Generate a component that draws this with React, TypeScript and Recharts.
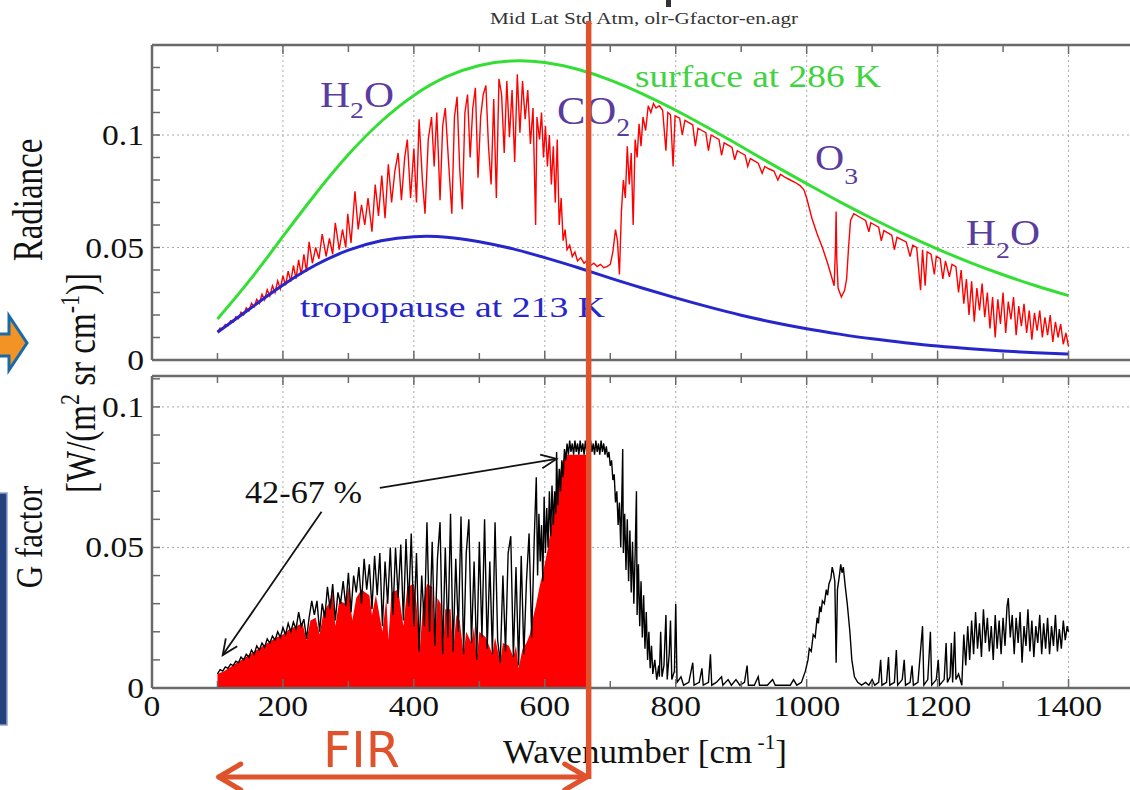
import { Area, CartesianGrid, ComposedChart, Line, ReferenceLine, XAxis, YAxis } from "recharts";

// Planck curves [wavenumber cm^-1, radiance]
const surface286K: [number, number][] = [
  [100, 0.0182], [150, 0.0357], [200, 0.0549], [250, 0.0739], [300, 0.0913], [350, 0.106], [400, 0.1176],
  [450, 0.1259], [500, 0.1309], [550, 0.1329], [600, 0.1322], [650, 0.1292], [700, 0.1244], [750, 0.1182],
  [800, 0.111], [850, 0.1031], [900, 0.0949], [950, 0.0865], [1000, 0.0784], [1050, 0.0704], [1100, 0.0629],
  [1150, 0.0558], [1200, 0.0493], [1250, 0.0433], [1300, 0.0379], [1350, 0.033], [1400, 0.0286],
];

const tropopause213K: [number, number][] = [
  [100, 0.0123], [150, 0.0229], [200, 0.0333], [250, 0.0422], [300, 0.0488], [350, 0.053], [400, 0.0548],
  [450, 0.0546], [500, 0.0526], [550, 0.0495], [600, 0.0455], [650, 0.0411], [700, 0.0364], [750, 0.0319],
  [800, 0.0276], [850, 0.0236], [900, 0.0199], [950, 0.0167], [1000, 0.0139], [1050, 0.0115], [1100, 0.0094],
  [1150, 0.0077], [1200, 0.0062], [1250, 0.005], [1300, 0.004], [1350, 0.0032], [1400, 0.0026],
];

// outgoing spectrum (red)
const radianceSpectrum: [number, number][] = [
  [100, 0.0125], [104, 0.0142], [108, 0.0138], [112, 0.0158], [116, 0.0152], [120, 0.0175], [124, 0.0168],
  [128, 0.0192], [132, 0.0184], [136, 0.0212], [140, 0.02], [144, 0.0232], [148, 0.0218], [152, 0.0252],
  [156, 0.0236], [160, 0.027], [164, 0.0252], [168, 0.0292], [172, 0.0268], [176, 0.0312], [180, 0.0284],
  [184, 0.033], [188, 0.03], [192, 0.0352], [196, 0.0316], [200, 0.0375], [204, 0.0332], [208, 0.0395],
  [212, 0.0348], [216, 0.042], [220, 0.0362], [224, 0.0445], [228, 0.0378], [232, 0.047], [236, 0.0392],
  [240, 0.0525], [245, 0.043], [250, 0.05], [255, 0.045], [260, 0.056], [266, 0.046], [271, 0.054],
  [276, 0.047], [280, 0.061], [286, 0.049], [291, 0.058], [296, 0.05], [299, 0.065], [304, 0.052],
  [310, 0.075], [315, 0.058], [320, 0.069], [325, 0.06], [330, 0.072], [336, 0.057], [341, 0.078],
  [346, 0.064], [351, 0.082], [356, 0.063], [361, 0.087], [366, 0.07], [371, 0.084], [376, 0.092],
  [381, 0.071], [386, 0.09], [390, 0.098], [395, 0.072], [400, 0.094], [404, 0.07], [408, 0.107],
  [413, 0.08], [417, 0.065], [422, 0.098], [427, 0.108], [431, 0.086], [435, 0.11], [440, 0.071],
  [444, 0.104], [448, 0.112], [453, 0.088], [458, 0.065], [462, 0.108], [466, 0.117], [470, 0.085],
  [474, 0.067], [478, 0.11], [482, 0.118], [486, 0.09], [490, 0.112], [494, 0.121], [498, 0.081],
  [502, 0.108], [506, 0.118], [510, 0.122], [514, 0.095], [518, 0.078], [522, 0.116], [526, 0.072],
  [530, 0.125], [534, 0.118], [538, 0.092], [542, 0.124], [546, 0.099], [550, 0.12], [554, 0.088],
  [558, 0.127], [562, 0.101], [566, 0.124], [570, 0.107], [574, 0.12], [578, 0.096], [582, 0.112],
  [586, 0.06], [588, 0.108], [592, 0.098], [595, 0.11], [598, 0.09], [601, 0.104], [604, 0.086],
  [607, 0.1], [610, 0.078], [613, 0.095], [616, 0.07], [619, 0.098], [622, 0.06], [625, 0.072],
  [628, 0.053], [631, 0.058], [634, 0.049], [638, 0.051], [642, 0.046], [646, 0.048], [650, 0.044],
  [655, 0.0455], [660, 0.043], [665, 0.0445], [670, 0.042], [675, 0.043], [680, 0.0415], [685, 0.0425],
  [690, 0.041], [695, 0.0415], [700, 0.0425], [704, 0.048], [708, 0.058], [711, 0.053], [714, 0.038],
  [717, 0.066], [720, 0.08], [723, 0.072], [726, 0.095], [729, 0.078], [732, 0.092], [735, 0.06],
  [738, 0.098], [741, 0.09], [744, 0.105], [747, 0.095], [750, 0.108], [754, 0.102], [758, 0.113],
  [762, 0.11], [766, 0.114], [770, 0.112], [775, 0.113], [780, 0.111], [785, 0.093], [788, 0.11],
  [792, 0.109], [796, 0.086], [799, 0.1085], [806, 0.1075], [810, 0.1], [814, 0.1065], [820, 0.1055],
  [826, 0.1045], [830, 0.095], [834, 0.103], [840, 0.102], [846, 0.101], [850, 0.093], [854, 0.1],
  [860, 0.099], [866, 0.098], [870, 0.091], [874, 0.0965], [880, 0.0955], [886, 0.0945], [890, 0.089],
  [894, 0.093], [900, 0.092], [906, 0.091], [910, 0.086], [914, 0.0895], [920, 0.0885], [926, 0.0875],
  [932, 0.083], [936, 0.086], [942, 0.085], [950, 0.084], [956, 0.08], [960, 0.0825], [968, 0.081],
  [975, 0.08], [982, 0.079], [990, 0.0775], [996, 0.0755], [1000, 0.072], [1008, 0.063], [1016, 0.056],
  [1024, 0.05], [1032, 0.043], [1038, 0.037], [1042, 0.033], [1044, 0.05], [1045, 0.066], [1046, 0.045],
  [1048, 0.032], [1053, 0.028], [1058, 0.031], [1061, 0.036], [1064, 0.05], [1067, 0.062], [1072, 0.065],
  [1078, 0.064], [1084, 0.063], [1090, 0.062], [1095, 0.057], [1098, 0.061], [1104, 0.06], [1110, 0.059],
  [1114, 0.053], [1118, 0.0575], [1124, 0.0565], [1130, 0.0555], [1134, 0.049], [1138, 0.0545],
  [1145, 0.0535], [1152, 0.0525], [1158, 0.046], [1162, 0.051], [1168, 0.05], [1174, 0.031], [1177, 0.049],
  [1181, 0.033], [1184, 0.048], [1190, 0.047], [1195, 0.038], [1198, 0.046], [1204, 0.045], [1208, 0.036],
  [1212, 0.044], [1218, 0.037], [1222, 0.0425], [1228, 0.0415], [1232, 0.03], [1236, 0.04], [1240, 0.025],
  [1244, 0.036], [1248, 0.02], [1252, 0.035], [1256, 0.017], [1260, 0.032], [1264, 0.022], [1268, 0.034],
  [1272, 0.019], [1276, 0.03], [1280, 0.014], [1284, 0.028], [1288, 0.01], [1292, 0.027], [1296, 0.016],
  [1300, 0.03], [1304, 0.012], [1308, 0.026], [1312, 0.018], [1316, 0.028], [1320, 0.011], [1324, 0.024],
  [1328, 0.015], [1332, 0.025], [1336, 0.012], [1340, 0.022], [1344, 0.009], [1348, 0.021], [1352, 0.013],
  [1356, 0.022], [1360, 0.01], [1364, 0.019], [1368, 0.011], [1372, 0.02], [1376, 0.008], [1380, 0.017],
  [1384, 0.01], [1388, 0.016], [1392, 0.007], [1396, 0.012], [1400, 0.006],
];

// G factor (black line)
const gFactorSpectrum: [number, number][] = [
  [100, 0.005], [104, 0.0065], [108, 0.006], [112, 0.0075], [116, 0.007], [120, 0.0085], [124, 0.008],
  [128, 0.0095], [132, 0.009], [136, 0.011], [140, 0.01], [144, 0.012], [148, 0.011], [152, 0.0135],
  [156, 0.012], [160, 0.015], [164, 0.0135], [168, 0.016], [172, 0.0145], [176, 0.0175], [180, 0.016],
  [184, 0.0185], [188, 0.017], [192, 0.02], [196, 0.018], [200, 0.0215], [204, 0.019], [208, 0.023],
  [212, 0.02], [216, 0.0235], [220, 0.021], [224, 0.027], [228, 0.022], [232, 0.0245], [236, 0.0175],
  [240, 0.025], [244, 0.031], [248, 0.026], [252, 0.031], [256, 0.02], [260, 0.03], [264, 0.025],
  [268, 0.036], [272, 0.028], [276, 0.037], [280, 0.024], [284, 0.034], [288, 0.03], [292, 0.038],
  [296, 0.029], [300, 0.041], [304, 0.027], [308, 0.04], [312, 0.034], [316, 0.043], [320, 0.03],
  [324, 0.046], [328, 0.035], [332, 0.044], [336, 0.028], [340, 0.047], [344, 0.033], [348, 0.048],
  [352, 0.022], [356, 0.045], [360, 0.03], [364, 0.05], [368, 0.026], [372, 0.05], [376, 0.032],
  [380, 0.051], [384, 0.024], [388, 0.053], [392, 0.029], [396, 0.055], [400, 0.022], [404, 0.048],
  [408, 0.013], [412, 0.04], [416, 0.022], [420, 0.059], [424, 0.02], [428, 0.052], [432, 0.015],
  [436, 0.046], [440, 0.059], [444, 0.012], [448, 0.05], [452, 0.018], [456, 0.062], [460, 0.013],
  [464, 0.046], [468, 0.02], [472, 0.061], [476, 0.012], [480, 0.048], [484, 0.06], [488, 0.016],
  [492, 0.045], [496, 0.01], [500, 0.052], [504, 0.018], [508, 0.06], [512, 0.014], [516, 0.045],
  [520, 0.012], [524, 0.059], [528, 0.017], [532, 0.009], [536, 0.04], [540, 0.013], [544, 0.048],
  [548, 0.054], [552, 0.011], [556, 0.043], [560, 0.008], [564, 0.047], [568, 0.012], [572, 0.038],
  [576, 0.055], [580, 0.018], [584, 0.054], [587, 0.075], [589, 0.04], [591, 0.062], [593, 0.045],
  [595, 0.058], [597, 0.038], [599, 0.068], [601, 0.048], [603, 0.064], [605, 0.05], [607, 0.07],
  [609, 0.054], [611, 0.072], [613, 0.058], [615, 0.07], [617, 0.062], [618, 0.084], [620, 0.065],
  [622, 0.078], [624, 0.07], [626, 0.081], [628, 0.075], [630, 0.085], [632, 0.081], [634, 0.087],
  [636, 0.083], [638, 0.088], [640, 0.084], [642, 0.087], [644, 0.083], [646, 0.088], [648, 0.084],
  [650, 0.087], [652, 0.083], [654, 0.088], [656, 0.084], [658, 0.087], [660, 0.083], [662, 0.088],
  [664, 0.084], [666, 0.087], [668, 0.083], [670, 0.088], [672, 0.084], [674, 0.087], [676, 0.083],
  [678, 0.088], [680, 0.084], [682, 0.087], [684, 0.083], [686, 0.088], [688, 0.084], [690, 0.087],
  [692, 0.083], [694, 0.086], [696, 0.082], [698, 0.084], [700, 0.079], [702, 0.081], [704, 0.074],
  [706, 0.076], [708, 0.066], [710, 0.07], [712, 0.058], [714, 0.066], [716, 0.05], [718, 0.072],
  [719, 0.085], [720, 0.048], [722, 0.062], [724, 0.042], [726, 0.06], [728, 0.038], [730, 0.056],
  [732, 0.034], [734, 0.052], [736, 0.03], [738, 0.048], [740, 0.07], [741, 0.026], [743, 0.044],
  [745, 0.022], [747, 0.038], [749, 0.018], [751, 0.033], [753, 0.014], [755, 0.027], [757, 0.01],
  [759, 0.02], [761, 0.007], [763, 0.015], [765, 0.005], [768, 0.01], [771, 0.003], [774, 0.008],
  [775, 0.004], [777, 0.02], [779, 0.004], [782, 0.008], [785, 0.026], [787, 0.003], [790, 0.012],
  [792, 0.024], [794, 0.003], [798, 0.006], [800, 0.03], [802, 0.002], [808, 0.004], [812, 0.001],
  [820, 0.002], [826, 0.009], [828, 0.001], [836, 0.002], [840, 0.007], [842, 0.001], [850, 0.002],
  [853, 0.012], [855, 0.001], [862, 0.002], [870, 0.004], [872, 0.001], [880, 0.003], [885, 0.001],
  [892, 0.003], [898, 0.001], [905, 0.002], [909, 0.008], [911, 0.001], [920, 0.001], [926, 0.004],
  [928, 0.001], [940, 0.001], [948, 0.003], [952, 0.001], [965, 0.001], [975, 0.001], [980, 0.003],
  [985, 0.001], [992, 0.002], [998, 0.006], [1002, 0.01], [1004, 0.014], [1007, 0.013], [1010, 0.019],
  [1013, 0.018], [1016, 0.025], [1018, 0.023], [1020, 0.029], [1022, 0.027], [1024, 0.031], [1027, 0.03],
  [1030, 0.035], [1032, 0.033], [1034, 0.037], [1037, 0.039], [1039, 0.043], [1041, 0.041], [1043, 0.038],
  [1045, 0.009], [1047, 0.035], [1050, 0.04], [1052, 0.044], [1054, 0.041], [1056, 0.043], [1059, 0.036],
  [1062, 0.03], [1066, 0.02], [1069, 0.01], [1073, 0.004], [1078, 0.002], [1084, 0.001], [1090, 0.002],
  [1095, 0.001], [1100, 0.003], [1104, 0.001], [1110, 0.002], [1113, 0.01], [1115, 0.001], [1122, 0.002],
  [1125, 0.011], [1127, 0.001], [1134, 0.002], [1137, 0.0135], [1139, 0.001], [1146, 0.003], [1149, 0.01],
  [1151, 0.001], [1158, 0.002], [1161, 0.008], [1163, 0.001], [1170, 0.002], [1177, 0.022], [1179, 0.001],
  [1185, 0.003], [1189, 0.02], [1191, 0.001], [1198, 0.003], [1201, 0.01], [1203, 0.001], [1210, 0.003],
  [1213, 0.016], [1215, 0.002], [1219, 0.004], [1221, 0.016], [1223, 0.002], [1226, 0.02], [1228, 0.003],
  [1232, 0.005], [1237, 0.001], [1240, 0.019], [1243, 0.008], [1246, 0.022], [1249, 0.01], [1252, 0.024],
  [1255, 0.012], [1258, 0.027], [1261, 0.014], [1264, 0.023], [1267, 0.011], [1270, 0.028], [1273, 0.016],
  [1276, 0.025], [1279, 0.013], [1282, 0.022], [1285, 0.01], [1288, 0.026], [1291, 0.014], [1294, 0.024],
  [1297, 0.012], [1300, 0.025], [1303, 0.015], [1306, 0.029], [1308, 0.032], [1311, 0.018], [1314, 0.026],
  [1317, 0.012], [1320, 0.025], [1323, 0.016], [1326, 0.027], [1329, 0.009], [1332, 0.022], [1335, 0.015],
  [1338, 0.028], [1341, 0.013], [1344, 0.024], [1347, 0.011], [1350, 0.022], [1353, 0.016], [1356, 0.026],
  [1359, 0.012], [1362, 0.023], [1365, 0.014], [1368, 0.025], [1371, 0.012], [1374, 0.022], [1377, 0.015],
  [1380, 0.026], [1383, 0.013], [1386, 0.021], [1389, 0.014], [1392, 0.024], [1395, 0.017], [1398, 0.022],
  [1400, 0.02],
];

// red filled part of G (far infrared, up to 667 cm^-1)
const firFill: [number, number][] = [
  [100, 0.005], [110, 0.006], [120, 0.0075], [130, 0.009], [140, 0.0105], [150, 0.012], [160, 0.0135],
  [170, 0.015], [180, 0.0165], [190, 0.018], [200, 0.019], [210, 0.021], [220, 0.022], [230, 0.023],
  [236, 0.017], [242, 0.024], [250, 0.025], [256, 0.019], [262, 0.027], [270, 0.03], [276, 0.034],
  [280, 0.022], [286, 0.031], [296, 0.03], [300, 0.036], [306, 0.024], [312, 0.032], [320, 0.035],
  [326, 0.034], [332, 0.033], [336, 0.026], [342, 0.033], [352, 0.02], [358, 0.032], [361, 0.017],
  [366, 0.034], [376, 0.035], [384, 0.022], [390, 0.036], [400, 0.037], [404, 0.03], [409, 0.0135],
  [414, 0.03], [420, 0.037], [428, 0.036], [432, 0.015], [436, 0.032], [441, 0.03], [444, 0.012],
  [448, 0.028], [456, 0.028], [460, 0.013], [465, 0.026], [470, 0.024], [476, 0.012], [480, 0.02],
  [488, 0.016], [492, 0.022], [496, 0.01], [500, 0.02], [510, 0.018], [520, 0.012], [524, 0.018],
  [532, 0.009], [536, 0.016], [545, 0.015], [552, 0.011], [556, 0.015], [560, 0.007], [566, 0.014],
  [572, 0.016], [577, 0.019], [582, 0.025], [587, 0.03], [592, 0.036], [598, 0.042], [605, 0.05],
  [612, 0.062], [620, 0.073], [626, 0.08], [632, 0.083], [640, 0.083], [650, 0.083], [660, 0.083],
  [668, 0.083],
];

// "42-67 %" arrows, [wavenumber, G] from -> to
const arrowToFarEnd: [number, number][] = [[259, 0.0627], [108, 0.0117]];
const arrowToBandEdge: [number, number][] = [[348, 0.0712], [618, 0.0815]];

const xTicks = [0, 100, 200, 300, 400, 500, 600, 700, 800, 900, 1000, 1100, 1200, 1300, 1400, 1500];
const xGrid = [200, 400, 600, 800, 1000, 1200, 1400];
const radianceTicks = [0, 0.01, 0.02, 0.03, 0.04, 0.05, 0.06, 0.07, 0.08, 0.09, 0.1, 0.11, 0.12, 0.13, 0.14];
const gTicks = [0, 0.01, 0.02, 0.03, 0.04, 0.05, 0.06, 0.07, 0.08, 0.09, 0.1, 0.11];
const yGrid = [0.05, 0.1];
const yLabels: [number, string][] = [[0, "0"], [0.05, "0.05"], [0.1, "0.1"]];

const FIR_EDGE = 667;
const X_MAX = 1500;

const SERIF = "'Liberation Serif', 'Times New Roman', serif";
const FRAME = "#6a6a6a";
const GREEN = "#35de35";
const BLUE = "#2626cc";
const PURPLE = "#5a3ca0";
const ORANGE = "#e0522b";

const W = 1140;
const LEFT = 152;
const RIGHT = 6;
const xPx = (wn: number) => LEFT + (wn / X_MAX) * (W - LEFT - RIGHT);

function merge(series: Record<string, [number, number][]>) {
  const rows = new Map<number, any>();
  for (const [key, pts] of Object.entries(series)) {
    for (const [x, y] of pts) {
      const row = rows.get(x) ?? { x };
      row[key] = y;
      rows.set(x, row);
    }
  }
  return [...rows.values()].sort((a, b) => a.x - b.x);
}

const topRows = merge({ surface: surface286K, tropo: tropopause213K, olr: radianceSpectrum });
const bottomRows = merge({ g: gFactorSpectrum, fir: firFill });

function XTick(props: any) {
  const { x, y, payload, side, labels } = props;
  const v = payload.value;
  const len = v % 200 === 0 ? 8 : 6;
  const dir = side === "top" ? 1 : -1;
  const y0 = side === "top" ? y + 1 : y - 1;
  return (
    <g>
      <line x1={x} x2={x} y1={y0} y2={y0 + dir * len} stroke={FRAME} strokeWidth={1.5} />
      {labels && v % 200 === 0 && v <= 1400 && (
        <text transform={`translate(${x},${y0 + 29}) scale(1.12,1)`} textAnchor="middle" fontFamily={SERIF} fontSize={30} fill="#111">
          {v}
        </text>
      )}
    </g>
  );
}

function YTick(props: any) {
  const { x, y, payload } = props;
  const hit = yLabels.find(([v]) => Math.abs(v - payload.value) < 1e-9);
  const x0 = x + 1;
  return (
    <g>
      <line x1={x0} x2={x0 + 7} y1={y} y2={y} stroke={FRAME} strokeWidth={1.5} />
      {hit && (
        <text transform={`translate(${x0 - 9},${y + 10}) scale(1.12,1)`} textAnchor="end" fontFamily={SERIF} fontSize={30} fill="#111">
          {hit[1]}
        </text>
      )}
    </g>
  );
}

function Arrow(props: any) {
  const { x1, y1, x2, y2 } = props;
  const a = Math.atan2(y2 - y1, x2 - x1);
  const len = 17;
  const s = 0.42;
  const p1 = `${x2 - len * Math.cos(a - s)},${y2 - len * Math.sin(a - s)}`;
  const p2 = `${x2 - len * Math.cos(a + s)},${y2 - len * Math.sin(a + s)}`;
  return (
    <g>
      <line x1={x1} y1={y1} x2={x2} y2={y2} stroke="#111" strokeWidth={1.8} />
      <polyline points={`${p1} ${x2},${y2} ${p2}`} fill="none" stroke="#111" strokeWidth={1.8} />
    </g>
  );
}

export default function App() {
  const xAxisCommon = {
    type: "number" as const,
    dataKey: "x",
    domain: [0, X_MAX],
    ticks: xTicks,
    interval: 0 as const,
    allowDataOverflow: true,
    height: 1,
    tickSize: 0,
    tickMargin: 0,
    tickLine: false,
    axisLine: { stroke: FRAME, strokeWidth: 2.5 },
  };
  const yAxisCommon = {
    type: "number" as const,
    interval: 0 as const,
    allowDataOverflow: true,
    width: 1,
    tickSize: 0,
    tickMargin: 0,
    tickLine: false,
    axisLine: { stroke: FRAME, strokeWidth: 2.5 },
    tick: (p: any) => <YTick {...p} />,
  };
  return (
    <div style={{ position: "absolute", left: 0, top: 0, width: 1130, height: 790, overflow: "hidden", background: "#fff" }}>
      <div style={{ position: "absolute", left: 0, top: 0 }}>
        <ComposedChart width={W} height={390} data={topRows} margin={{ top: 44, right: RIGHT, bottom: 29, left: LEFT - 1 }}>
          <CartesianGrid verticalValues={xGrid} horizontalValues={yGrid} stroke="#aaa" strokeDasharray="2 3" />
          <XAxis {...xAxisCommon} tick={(p: any) => <XTick {...p} side="bottom" labels={false} />} />
          <XAxis {...xAxisCommon} xAxisId="top" orientation="top" tick={(p: any) => <XTick {...p} side="top" labels={false} />} />
          <YAxis {...yAxisCommon} domain={[0, 0.14]} ticks={radianceTicks} />
          <Line dataKey="olr" type="linear" stroke="#ff0000" strokeWidth={1.4} dot={false} activeDot={false} connectNulls isAnimationActive={false} />
          <Line dataKey="tropo" type="natural" stroke={BLUE} strokeWidth={3} dot={false} activeDot={false} connectNulls isAnimationActive={false} />
          <Line dataKey="surface" type="natural" stroke={GREEN} strokeWidth={3} dot={false} activeDot={false} connectNulls isAnimationActive={false} />
        </ComposedChart>
      </div>

      <div style={{ position: "absolute", left: 0, top: 0 }}>
        <ComposedChart width={W} height={790} data={bottomRows} margin={{ top: 375, right: RIGHT, bottom: 101, left: LEFT - 1 }}>
          <CartesianGrid verticalValues={xGrid} horizontalValues={yGrid} stroke="#aaa" strokeDasharray="2 3" />
          <XAxis {...xAxisCommon} tick={(p: any) => <XTick {...p} side="bottom" labels />} />
          <XAxis {...xAxisCommon} xAxisId="top" orientation="top" tick={(p: any) => <XTick {...p} side="top" labels={false} />} />
          <YAxis {...yAxisCommon} domain={[0, 0.111]} ticks={gTicks} />
          <Line dataKey="g" type="linear" stroke="#000" strokeWidth={1.4} dot={false} activeDot={false} connectNulls isAnimationActive={false} />
          <Area dataKey="fir" type="linear" fill="#ff0000" fillOpacity={1} stroke="none" connectNulls isAnimationActive={false} dot={false} activeDot={false} />
          <ReferenceLine
            segment={arrowToFarEnd.map(([x, y]) => ({ x, y }))}
            ifOverflow="visible"
            shape={(p: any) => <Arrow {...p} />}
          />
          <ReferenceLine
            segment={arrowToBandEdge.map(([x, y]) => ({ x, y }))}
            ifOverflow="visible"
            shape={(p: any) => <Arrow {...p} />}
          />
        </ComposedChart>
      </div>

      <svg width={1130} height={790} style={{ position: "absolute", left: 0, top: 0, pointerEvents: "none" }}>
        <rect x={666} y={0} width={5} height={7} fill="#333" />
        <text x={490} y={24} fontFamily={SERIF} fontSize={16} fill="#333" textLength={308} lengthAdjust="spacingAndGlyphs">
          Mid Lat Std Atm, olr-Gfactor-en.agr
        </text>

        <g fontFamily={SERIF} fill={PURPLE}>
          <text x={320} y={107} fontSize={36} textLength={74} lengthAdjust="spacingAndGlyphs">
            H<tspan fontSize={24} dy={11}>2</tspan><tspan dy={-11}>O</tspan>
          </text>
          <text x={557} y={124} fontSize={40} textLength={73} lengthAdjust="spacingAndGlyphs">
            CO<tspan fontSize={26} dy={12}>2</tspan>
          </text>
          <text x={815} y={170} fontSize={35} textLength={43} lengthAdjust="spacingAndGlyphs">
            O<tspan fontSize={24} dy={14}>3</tspan>
          </text>
          <text x={966} y={245} fontSize={36} textLength={74} lengthAdjust="spacingAndGlyphs">
            H<tspan fontSize={24} dy={13}>2</tspan><tspan dy={-13}>O</tspan>
          </text>
        </g>
        <text x={635} y={87} fontFamily={SERIF} fontSize={32} fill="#3fd33f" textLength={246} lengthAdjust="spacingAndGlyphs">
          surface at 286 K
        </text>
        <text x={300} y={317} fontFamily={SERIF} fontSize={30} fill={BLUE} textLength={305} lengthAdjust="spacingAndGlyphs">
          tropopause at 213 K
        </text>
        <text x={245} y={503} fontFamily={SERIF} fontSize={31} fill="#111" textLength={117} lengthAdjust="spacingAndGlyphs">
          42-67 %
        </text>

        <g fontFamily={SERIF} fill="#111">
          <text transform="translate(42,200) scale(1.25,1) rotate(-90)" textAnchor="middle" fontSize={33}>
            Radiance
          </text>
          <text transform="translate(42,537) scale(1.25,1) rotate(-90)" textAnchor="middle" fontSize={31}>
            G factor
          </text>
          <text transform="translate(95,383) scale(1.25,1) rotate(-90)" textAnchor="middle" fontSize={33}>
            [W/(m<tspan fontSize={22} dy={-13}>2</tspan><tspan dy={13}> sr cm</tspan>
            <tspan fontSize={22} dy={-13}>-1</tspan><tspan dy={13}>)]</tspan>
          </text>
          <text x={503} y={763} fontSize={33} textLength={284} lengthAdjust="spacingAndGlyphs">
            Wavenumber [cm<tspan fontSize={20} dy={-14}> -1</tspan><tspan dy={14}>]</tspan>
          </text>
        </g>

        <line x1={xPx(FIR_EDGE)} x2={xPx(FIR_EDGE)} y1={21} y2={779} stroke={ORANGE} strokeWidth={5.5} />
        <g stroke={ORANGE} strokeWidth={5} fill="none" strokeLinecap="round" strokeLinejoin="round">
          <line x1={xPx(102)} x2={xPx(664)} y1={777} y2={777} />
          <polyline points={`${xPx(102) + 22},${764} ${xPx(102)},${777} ${xPx(102) + 22},${790}`} />
          <polyline points={`${xPx(664) - 22},${764} ${xPx(664)},${777} ${xPx(664) - 22},${790}`} />
        </g>
        <text x={323} y={767} fontFamily="'DejaVu Sans Condensed', 'DejaVu Sans', sans-serif" fontSize={50} fill={ORANGE} textLength={77} lengthAdjust="spacingAndGlyphs">
          FIR
        </text>

        <polygon points="-3,334 9,334 9,316 27,343 9,370 9,356 -3,356" fill="#f39325" stroke="#1a6aa8" strokeWidth={3} />
        <rect x={-2} y={493} width={9} height={232} fill="#23407f" stroke="#8fa0cc" strokeWidth={1.5} />
      </svg>
    </div>
  );
}
